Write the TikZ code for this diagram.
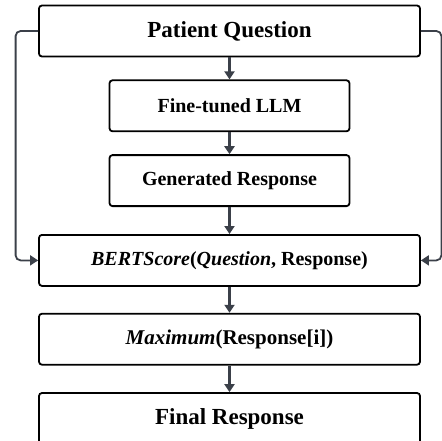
\documentclass[tikz,border=0pt]{standalone}
\usepackage{fontspec}
\setmainfont{Liberation Serif}
\usetikzlibrary{positioning}
\usetikzlibrary{arrows.meta}
\definecolor{linkgray}{HTML}{3B4049}
\tikzset{
box/.style={ % plain rounded box for each step
draw=black,
line width=1.8pt,
rounded corners=3pt,
fill=white,
minimum height=51pt,
align=center,
font=\fontsize{20}{23}\selectfont\bfseries},
widebox/.style={box, minimum width=381pt},
narrowbox/.style={box, minimum width=240pt},
bigtext/.style={font=\fontsize{23}{26}\selectfont\bfseries},
link/.style={ % connectors between the steps
draw=linkgray,
line width=2.6pt,
-{Triangle[length=8pt,width=10pt]}}}

\begin{document}
\begin{tikzpicture}
\useasboundingbox (0,0) rectangle (442pt,-440pt);
\node[widebox, bigtext] (question) at (229.5pt,-31pt) {Patient Question};
\node[narrowbox, below=22pt of question] (llm) {Fine-tuned LLM};
\node[narrowbox, below=22pt of llm] (generated) {Generated Response};
\node[widebox, below=27pt of generated] (bertscore) {\textit{BERTScore}(\textit{Question}, Response)};
\node[widebox, below=26pt of bertscore, font=\fontsize{21}{24}\selectfont\bfseries] (maximum) {\textit{Maximum}(Response[i])};
\node[widebox, bigtext, below=26.5pt of maximum] (final) {Final Response};
\draw[link] (question) -- (llm);
\draw[link] (llm) -- (generated);
\draw[link] (generated) -- (bertscore);
\draw[link] (bertscore) -- (maximum);
\draw[link] (maximum) -- (final);
% question also goes straight to the scoring step
\draw[link, line width=1.8pt, rounded corners=5pt] (question.west) -- ++(-22.5pt,0) |- (bertscore.west);
\draw[link, line width=1.8pt, rounded corners=5pt] (question.east) -- ++(20.5pt,0) |- (bertscore.east);
\end{tikzpicture}
\end{document}
